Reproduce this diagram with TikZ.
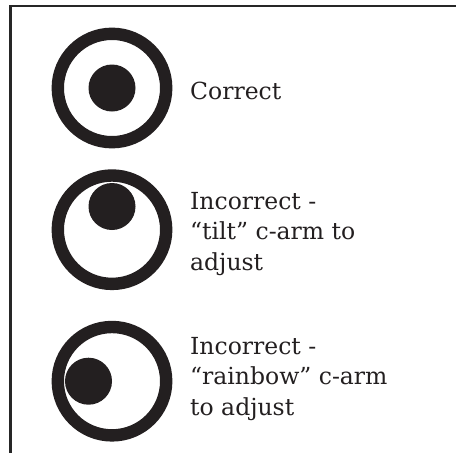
\documentclass[tikz,border=0pt]{standalone}
\usepackage{fontspec}
\setmainfont{DejaVu Serif}
\usetikzlibrary{positioning, calc}
\definecolor{ink}{RGB}{35,31,32}
\tikzset{
  every node/.style={font=\fontsize{23.5}{30.5}\selectfont, text=ink},
  ring/.style={draw=ink, circle, line width=12.4pt, minimum size=108.4pt, inner sep=0pt},
  spot/.style={fill=ink, circle, minimum size=47pt, inner sep=0pt},
  caption/.style={align=left, anchor=base west, inner sep=0pt},
  frame/.style={draw=black!85, line width=2.5pt},
}
\begin{document}
\begin{tikzpicture}[x=1pt, y=-1pt]
  \useasboundingbox (0,0) rectangle (456,453);
  % ---- frame (left and top edges only) ------------------------------------
  \draw[frame] (10.5,453) -- (10.5,5.8) -- (456,5.8);

  % ---- targets ------------------------------------------------------------
  \node[ring] (r1) at (112,88) {};
  \node[ring] (r2) at (112,229.7) {};
  \node[ring] (r3) at (112,381.2) {};
  \node[spot] (s1) at (r1.center) {};
  \node[spot] (s2) at ($(r2.center) + (0,-23.2)$) {};
  \node[spot] (s3) at ($(r3.center) + (-23.5,0)$) {};

  % ---- captions (base = last line) ----------------------------------------
  \node[caption] (c1) at (190,99) {Correct};
  \node[caption] (c2) at (190,270) {Incorrect -\\“tilt” c-arm to\\adjust};
  \node[caption] (c3) at (190,415) {Incorrect -\\“rainbow” c-arm\\to adjust};
\end{tikzpicture}
\end{document}
